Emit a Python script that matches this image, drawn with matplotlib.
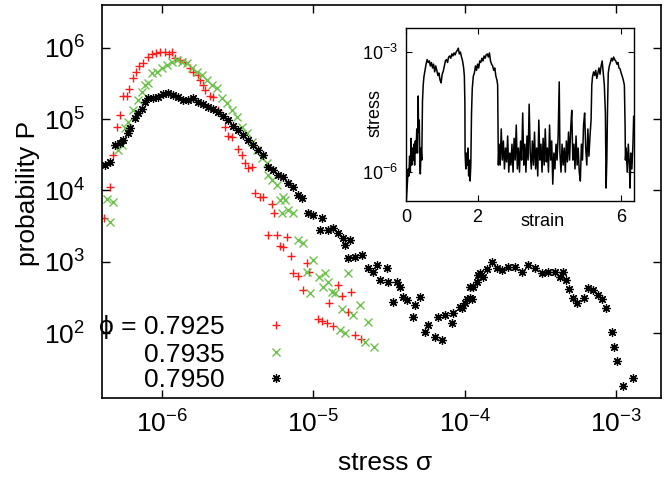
import matplotlib
matplotlib.use("Agg")
import matplotlib.pyplot as plt
import numpy as np

plt.rcParams['font.family'] = ['Liberation Sans', 'DejaVu Sans']
plt.rcParams['mathtext.default'] = 'regular'

# ---------------- main data ----------------
phi_labels = ["0.7925", "0.7935", "0.7950"]

red_stress = [4.14e-7, 4.53e-7, 4.74e-7, 5.04e-7, 5.27e-7, 5.52e-7, 5.87e-7, 6.05e-7, 6.43e-7, 6.73e-7,
              7.05e-7, 7.48e-7, 8.08e-7, 8.59e-7, 9.13e-7, 9.70e-7, 1.047e-6, 1.112e-6, 1.164e-6, 1.219e-6,
              1.315e-6, 1.419e-6, 1.531e-6, 1.60e-6, 1.73e-6, 1.78e-6, 1.87e-6, 1.92e-6, 2.08e-6, 2.17e-6,
              2.34e-6, 2.61e-6, 2.73e-6, 2.90e-6, 3.18e-6, 3.38e-6, 3.54e-6, 3.70e-6, 3.94e-6, 4.12e-6,
              4.44e-6, 4.65e-6, 5.33e-6, 5.50e-6, 5.02e-6, 5.75e-6, 6.03e-6, 6.31e-6, 6.70e-6, 7.12e-6,
              9.08e-6, 9.37e-6, 7.35e-6, 7.93e-6, 8.55e-6, 1.46e-5, 1.55e-5, 1.27e-5, 1.77e-5, 1.70e-5,
              1.074e-5, 1.14e-5, 1.233e-5, 1.35e-5, 1.89e-5, 2.07e-5]
red_prob = [4.12e3, 1.12e4, 3.14e4, 7.75e4, 1.14e5, 2.11e5, 2.11e5, 2.64e5, 3.76e5, 4.57e5,
            5.54e5, 6.11e5, 7.41e5, 8.16e5, 8.43e5, 8.71e5, 8.71e5, 8.16e5, 8.71e5, 7.18e5,
            6.73e5, 6.31e5, 5.20e5, 4.57e5, 4.15e5, 3.53e5, 3.01e5, 2.56e5, 2.11e5, 2.04e5,
            1.34e5, 7.75e4, 5.80e4, 5.61e4, 3.81e4, 3.14e4, 2.43e4, 2.07e4, 2.13e4, 9.23e3,
            8.11e3, 8.11e3, 6.47e3, 4.84e3, 2.38e3, 2.38e3, 1.67e3, 1.62e3, 2.23e3, 1.21e3,
            966, 722, 700, 635, 404, 475, 333, 266, 379, 199,
            158, 149, 139, 126, 94.6, 83.2]

green_stress = [4.33e-7, 4.74e-7, 4.53e-7, 5.12e-7, 5.44e-7, 5.69e-7, 5.96e-7, 6.43e-7, 6.94e-7, 7.38e-7,
                7.73e-7, 8.08e-7, 8.59e-7, 9.27e-7, 1.0e-6, 1.079e-6, 1.164e-6, 1.256e-6, 1.355e-6, 1.463e-6,
                1.578e-6, 1.703e-6, 1.837e-6, 1.98e-6, 2.14e-6, 2.31e-6, 2.49e-6, 2.69e-6, 2.90e-6, 3.13e-6,
                3.38e-6, 3.65e-6, 3.94e-6, 4.25e-6, 4.58e-6, 4.94e-6, 5.02e-6, 5.33e-6, 5.75e-6, 6.31e-6,
                6.03e-6, 6.50e-6, 6.21e-6, 6.81e-6, 7.35e-6, 7.93e-6, 8.55e-6, 9.96e-6, 9.08e-6, 9.51e-6,
                1.091e-5, 1.194e-5, 1.25e-5, 1.159e-5, 1.33e-5, 1.39e-5, 1.70e-5, 1.55e-5, 1.83e-5, 2.04e-5,
                2.30e-5, 1.50e-5, 1.62e-5, 2.20e-5, 2.52e-5]
green_prob = [7.60e3, 6.90e3, 3.62e3, 3.69e4, 4.34e4, 7.50e4, 9.10e4, 1.34e5, 1.85e5, 2.40e5,
              3.01e5, 3.21e5, 4.42e5, 4.57e5, 5.20e5, 5.72e5, 6.31e5, 6.73e5, 6.31e5, 6.11e5,
              5.20e5, 4.57e5, 4.15e5, 3.53e5, 3.01e5, 2.73e5, 1.98e5, 1.68e5, 1.34e5, 1.07e5,
              7.75e4, 6.38e4, 4.78e4, 3.69e4, 2.89e4, 2.43e4, 1.65e4, 1.40e4, 1.19e4, 8.11e3,
              7.36e3, 7.36e3, 4.84e3, 5.33e3, 4.84e3, 2.03e3, 1.84e3, 1.06e3, 722, 367,
              615, 700, 523, 445, 379, 367, 700, 219, 180, 249,
              144, 111, 101, 75.5, 64.3]

black_stress = [4.2e-7, 4.53e-7, 4.89e-7, 5.27e-7, 5.52e-7, 5.96e-7, 6.15e-7, 6.63e-7, 6.94e-7, 7.38e-7,
                7.73e-7, 8.08e-7, 8.73e-7, 9.42e-7, 1.016e-6, 1.096e-6, 1.18e-6, 1.28e-6, 1.38e-6, 1.49e-6,
                1.60e-6, 1.73e-6, 1.87e-6, 2.01e-6, 2.17e-6, 2.34e-6, 2.53e-6, 2.73e-6, 2.94e-6, 3.18e-6,
                3.43e-6, 3.70e-6, 3.99e-6, 4.31e-6, 4.65e-6, 5.02e-6, 5.42e-6, 5.85e-6, 6.31e-6, 6.81e-6,
                7.35e-6, 7.93e-6, 8.42e-6, 9.22e-6, 9.96e-6, 1.14e-5, 1.107e-5, 1.25e-5, 1.35e-5, 1.46e-5,
                1.57e-5, 1.75e-5, 1.62e-5, 1.70e-5, 1.89e-5, 2.10e-5, 2.30e-5, 2.64e-5, 3.07e-5, 2.48e-5,
                2.76e-5, 3.12e-5, 3.57e-5, 3.74e-5, 3.92e-5, 4.16e-5, 3.37e-5, 4.70e-5, 5.07e-5, 4.56e-5,
                5.47e-5, 5.73e-5, 6.37e-5, 7.09e-5, 6.67e-5, 7.42e-5, 8.26e-5, 8.38e-5, 9.33e-5, 1.007e-4,
                1.09e-4, 1.14e-4, 1.23e-4, 9.62e-5, 1.04e-4, 1.12e-4, 1.09e-4, 1.21e-4, 1.26e-4, 1.32e-4,
                1.41e-4, 1.52e-4, 1.64e-4, 1.77e-4, 1.94e-4, 2.15e-4, 2.39e-4, 2.62e-4, 2.92e-4, 3.25e-4,
                3.56e-4, 3.96e-4, 4.27e-4, 4.47e-4, 4.68e-4, 4.90e-4, 5.20e-4, 5.53e-4, 6.15e-4, 6.54e-4,
                7.06e-4, 7.62e-4, 8.09e-4, 8.60e-4, 9.42e-4, 9.72e-4, 1.017e-3, 1.11e-3, 1.30e-3]
black_prob = [2.28e4, 2.5e4, 4.34e4, 4.62e4, 5.09e4, 6.38e4, 7.5e4, 1.035e5, 1.22e5, 1.38e5,
              1.73e5, 1.98e5, 1.98e5, 2.04e5, 2.25e5, 2.32e5, 2.18e5, 2.04e5, 1.85e5, 1.85e5,
              1.98e5, 1.73e5, 1.63e5, 1.48e5, 1.38e5, 1.26e5, 1.10e5, 9.7e4, 8.0e4, 7.0e4,
              5.98e4, 5.09e4, 4.34e4, 3.69e4, 3.14e4, 2.13e4, 1.94e4, 1.65e4, 1.55e4, 1.27e4,
              1.12e4, 8.65e3, 7.85e3, 4.84e3, 4.54e3, 4.12e3, 2.80e3, 2.80e3, 2.99e3, 2.54e3,
              2.16e3, 2.03e3, 1.73e3, 1.13e3, 1.17e3, 1.25e3, 820, 905, 820, 722,
              558, 523, 523, 445, 322, 292, 274, 249, 322, 169,
              104, 131, 89, 81, 169, 180, 139, 192, 233, 266,
              312, 445, 655, 226, 302, 302, 445, 523, 698, 614,
              795, 995, 820, 769, 847, 847, 722, 905, 820, 698,
              722, 722, 614, 722, 558, 417, 312, 266, 312, 431,
              403, 344, 302, 226, 104, 64, 41, 18, 24]

# ---------------- inset data ----------------
strain = [0.00, 0.03, 0.06, 0.08, 0.10, 0.12, 0.14, 0.16, 0.18, 0.20, 0.22, 0.24, 0.26, 0.28, 0.30,
          0.32, 0.34, 0.35, 0.37, 0.39, 0.40, 0.42, 0.44, 0.46, 0.48, 0.50, 0.53, 0.56, 0.59, 0.62,
          0.65, 0.68, 0.71, 0.74, 0.77, 0.80, 0.83, 0.86, 0.89, 0.92, 0.95, 0.98, 1.01, 1.04, 1.07,
          1.10, 1.13, 1.16, 1.19, 1.22, 1.25, 1.28, 1.31, 1.34, 1.37, 1.40, 1.43, 1.46, 1.49, 1.52,
          1.55, 1.58, 1.61, 1.63, 1.645, 1.65, 1.67, 1.69, 1.71, 1.73, 1.75, 1.77, 1.79, 1.81, 1.83,
          1.85, 1.88, 1.91, 1.94, 1.97, 2.00, 2.03, 2.06, 2.09, 2.12, 2.15, 2.18, 2.21, 2.24, 2.27,
          2.30, 2.33, 2.36, 2.39, 2.42, 2.45, 2.48, 2.51, 2.54, 2.56, 2.57, 2.58,
          2.60, 2.63, 2.66, 2.69, 2.72, 2.75, 2.78, 2.81, 2.84, 2.87, 2.90, 2.93, 2.96, 2.99,
          3.02, 3.05, 3.08, 3.11, 3.14, 3.17, 3.20, 3.23, 3.26, 3.29, 3.32, 3.35, 3.38, 3.41,
          3.44, 3.47, 3.50, 3.53, 3.56, 3.59, 3.62, 3.65, 3.68, 3.71, 3.74, 3.77, 3.80, 3.83,
          3.86, 3.89, 3.92, 3.95, 3.98, 4.01, 4.04, 4.07, 4.10, 4.13, 4.16, 4.19, 4.22, 4.25,
          4.28, 4.30, 4.33, 4.36, 4.39, 4.42, 4.45, 4.48, 4.51, 4.54, 4.57, 4.60, 4.63, 4.66,
          4.69, 4.72, 4.75, 4.78, 4.81, 4.84, 4.87, 4.90, 4.93, 4.96, 4.99, 5.02, 5.05, 5.08,
          5.11, 5.14, 5.17, 5.19, 5.21, 5.24, 5.27, 5.30, 5.33, 5.36, 5.39, 5.42, 5.45, 5.48,
          5.51, 5.54, 5.57, 5.59, 5.61, 5.63, 5.65, 5.68, 5.71, 5.74, 5.77, 5.80, 5.83, 5.86,
          5.89, 5.92, 5.95, 5.98, 6.01, 6.04, 6.07, 6.10, 6.12, 6.13, 6.15, 6.18, 6.21, 6.24,
          6.26, 6.28, 6.31, 6.34, 6.36, 6.37]
stress_t = [1.5e-7, 4e-7, 1.2e-6, 8e-7, 2.5e-6, 1.0e-6, 7e-6, 1.5e-6, 4e-6, 2e-6, 5e-6, 1.5e-6, 6e-6, 3e-6, 1.2e-5,
            3e-6, 8e-5, 1e-5, 2e-5, 1.5e-6, 9e-7, 4e-6, 2e-6, 6e-5, 1.5e-4, 2.4e-4, 3.5e-4, 5e-4, 6.5e-4, 5.5e-4,
            6e-4, 4.5e-4, 5.5e-4, 4e-4, 5e-4, 3.2e-4, 4.5e-4, 3.5e-4, 2.6e-4, 3e-4, 2.0e-4, 1.7e-4, 2.8e-4, 3.3e-4, 4.5e-4,
            6e-4, 6.5e-4, 5.5e-4, 7.5e-4, 8e-4, 7e-4, 9e-4, 8e-4, 9.5e-4, 8.5e-4, 1.0e-3, 1.1e-3, 1.25e-3, 9e-4, 1.0e-3,
            7.5e-4, 6e-4, 4e-4, 2.5e-4, 5e-5, 3e-6, 1.2e-6, 3e-6, 1.5e-6, 4e-6, 8e-7, 2e-6, 6e-7, 1.5e-6, 3e-5,
            1.2e-4, 2.5e-4, 3e-4, 4.5e-4, 3.5e-4, 5e-4, 4e-4, 6e-4, 5.5e-4, 7e-4, 6e-4, 8e-4, 7e-4, 8.5e-4, 9e-4,
            7.5e-4, 9.5e-4, 6e-4, 5e-4, 4.5e-4, 3.5e-4, 4e-4, 2.5e-4, 2e-4, 1.5e-4, 2e-5, 1.5e-6,
            5e-6, 1.5e-6, 1.2e-5, 2e-6, 6e-6, 1.2e-6, 4e-6, 1.8e-6, 8e-6, 1.0e-6, 3e-6, 1.5e-6, 5e-6, 1.0e-6,
            7e-6, 2e-6, 1.5e-5, 1.2e-6, 4e-6, 1.0e-6, 6e-6, 2e-6, 3e-5, 1.5e-6, 5e-6, 1.0e-6, 8e-6, 2e-6,
            5e-5, 3e-6, 1.2e-6, 6e-6, 1.5e-6, 1.0e-5, 1.2e-6, 4e-6, 8e-7, 2e-5, 2e-6, 5e-6, 1.0e-6, 7e-6,
            1.5e-6, 1.2e-5, 1.8e-6, 4e-6, 1.0e-6, 1.5e-5, 2e-6, 6e-6, 5e-7, 3e-6, 1.2e-6, 5e-6, 2e-6, 8e-6,
            1.8e-4, 3e-6, 1.0e-6, 5e-6, 1.5e-6, 4e-6, 1.0e-6, 6e-6, 1.8e-6, 1.0e-5, 2e-6, 1.2e-5, 3.5e-5, 2e-6,
            5e-6, 1.2e-6, 8e-6, 1.5e-6, 4e-6, 1.0e-6, 6e-7, 5e-6, 2e-6, 1.5e-5, 3e-5, 4e-6, 1.5e-6, 1.2e-5,
            2.5e-6, 8e-6, 2e-5, 1.5e-4, 2.4e-4, 3.2e-4, 2.6e-4, 3.5e-4, 2.2e-4, 3e-4, 4e-4, 2.8e-4, 4.5e-4, 6e-4,
            3e-4, 1.5e-4, 3e-5, 4e-7, 2e-6, 4e-5, 3e-4, 4.5e-4, 5.5e-4, 7e-4, 6e-4, 7.5e-4, 6.5e-4, 6e-4,
            5e-4, 5.5e-4, 4e-4, 3.8e-4, 3e-4, 2.5e-4, 2e-4, 1.5e-4, 1.5e-5, 2e-6, 4e-6, 1e-6, 5e-6, 1.5e-6,
            4e-7, 3e-6, 1.2e-6, 5e-6, 2.5e-5, 2e-5]

RED = '#ff1a1a'
GREEN = '#6cc24a'
BLACK = '#000000'
FS = 19

fig = plt.figure(figsize=(6.71, 4.79), dpi=100)
ax = fig.add_axes([0.1516, 0.1691, 0.8335, 0.8205])

ax.plot(red_stress, red_prob, linestyle='none', marker='+', ms=6, mew=1.0, color=RED)
ax.plot(green_stress, green_prob, linestyle='none', marker='x', ms=5.5, mew=1.0, color=GREEN)
ax.plot(black_stress, black_prob, linestyle='none', marker=(8, 2, 0), ms=6.2, mew=0.9, color=BLACK)

ax.set_xscale('log')
ax.set_yscale('log')
ax.set_xlim(4e-7, 1.98e-3)
ax.set_ylim(12.4, 3.96e6)
ax.set_xticks([1e-6, 1e-5, 1e-4, 1e-3])
ax.set_yticks([1e2, 1e3, 1e4, 1e5, 1e6])
ax.minorticks_off()
ax.tick_params(which='both', direction='in', top=True, right=True, length=6, width=1,
               labelsize=FS)
ax.tick_params(axis='x', pad=9)
ax.tick_params(axis='y', pad=12)
for s in ax.spines.values():
    s.set_linewidth(1.2)

ax.set_xlabel('stress σ', fontsize=FS)
ax.set_ylabel('probability P', fontsize=FS)
ax.xaxis.label.set_va('center')
ax.yaxis.label.set_va('center')
ax.xaxis.set_label_coords(0.5065, -0.165)
ax.yaxis.set_label_coords(-0.132, 0.52)

# legend (gnuplot-style: right aligned text, marker to the right)
leg_y = [0.1858, 0.117, 0.051]
leg_text = ['ϕ = ' + phi_labels[0], phi_labels[1], phi_labels[2]]
leg_style = [('+', RED, 6, 1.0), ('x', GREEN, 5.5, 1.0), ((8, 2, 0), BLACK, 6.2, 0.9)]
for yy, tt, (mk, col, ms, mw) in zip(leg_y, leg_text, leg_style):
    ax.text(0.2205, yy, tt, transform=ax.transAxes, ha='right', va='center_baseline', fontsize=FS)
    ax.plot([0.3116], [yy], transform=ax.transAxes, marker=mk, color=col, ms=ms, mew=mw,
            linestyle='none', clip_on=False)

# ---------------- inset ----------------
ins = fig.add_axes([0.6051, 0.5804, 0.3398, 0.3612])
ins.plot(strain, stress_t, color='black', lw=1.1)
ins.set_yscale('log')
ins.set_xlim(0, 6.37)
ins.set_ylim(1.9e-7, 4e-3)
ins.set_xticks([0, 2, 6])
ins.set_yticks([1e-6, 1e-3])
ins.minorticks_off()
ins.tick_params(which='both', direction='in', top=True, right=True, length=4, width=0.8,
                labelsize=13, pad=6)
for s in ins.spines.values():
    s.set_linewidth(1.0)
ins.set_xlabel('strain', fontsize=13)
ins.set_ylabel('stress', fontsize=13)
ins.xaxis.label.set_va('center')
ins.yaxis.label.set_va('center')
ins.xaxis.set_label_coords(0.60, -0.12)
ins.yaxis.set_label_coords(-0.136, 0.51)

fig.savefig('out.png', dpi=100)
